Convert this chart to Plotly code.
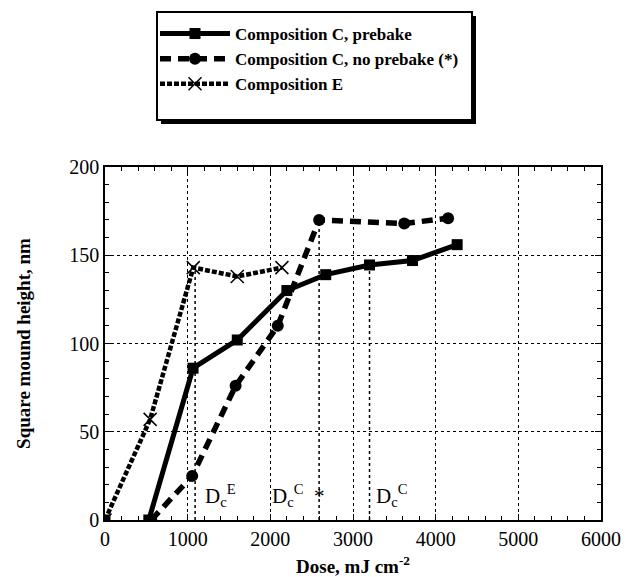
import plotly.graph_objects as go

# Data
prebake_x = [530, 1065, 1600, 2200, 2670, 3200, 3720, 4260]
prebake_y = [0, 86, 102, 130, 139, 144.5, 147, 156]

noprebake_x = [560, 1055, 1580, 2090, 2590, 3620, 4150]
noprebake_y = [0, 25, 76, 110, 170, 168, 171]

compE_x = [0, 546, 1068, 1600, 2140]
compE_y = [0, 57, 143, 138, 143]

dc_x = [1090, 2590, 3200]
dc_top = [143, 170, 144.5]
dc_labels = ["D<sub>c</sub><sup>E</sup>", "D<sub>c</sub><sup>C</sup>  *", "D<sub>c</sub><sup>C</sup>"]
dc_label_x = [1190, 1990, 3260]
dc_label_y = [14, 14, 14]

x_ticks = [0, 1000, 2000, 3000, 4000, 5000, 6000]
y_ticks = [0, 50, 100, 150, 200]

SERIF = "Liberation Serif, Tinos, Times New Roman, Times, serif"

L, R, T, B = 105, 601, 167, 520  # plot area pixels


def px(xp):
    return (xp - L) / (R - L)


def py(yp):
    return (B - yp) / (B - T)


fig = go.Figure()

# Dc vertical dotted lines
vx, vy = [], []
for x, t in zip(dc_x, dc_top):
    vx += [x, x, None]
    vy += [0, t, None]
fig.add_trace(go.Scatter(x=vx, y=vy, mode="lines", showlegend=False, hoverinfo="skip",
                         line=dict(color="black", width=1.5, dash="dot")))

fig.add_trace(go.Scatter(
    x=prebake_x, y=prebake_y, mode="lines+markers", name="Composition C, prebake",
    line=dict(color="black", width=5),
    marker=dict(symbol="square", size=11, color="black")))

fig.add_trace(go.Scatter(
    x=noprebake_x, y=noprebake_y, mode="lines+markers", name="Composition C, no prebake (*)",
    line=dict(color="black", width=5.5, dash="11px,7px"),
    marker=dict(symbol="circle", size=12, color="black")))

fig.add_trace(go.Scatter(
    x=compE_x, y=compE_y, mode="lines+markers", name="Composition E",
    line=dict(color="black", width=4.5, dash="5px,2px"),
    marker=dict(symbol="x-thin-open", size=13, color="black",
                line=dict(color="black", width=1.5))))

# starting point of Composition E drawn as a square
fig.add_trace(go.Scatter(
    x=compE_x[:1], y=compE_y[:1], mode="markers", showlegend=False, hoverinfo="skip",
    marker=dict(symbol="square", size=11, color="black")))

for lx, ly, txt in zip(dc_label_x, dc_label_y, dc_labels):
    fig.add_annotation(x=lx, y=ly, text=txt, showarrow=False, xanchor="left", yanchor="middle",
                       font=dict(family=SERIF, size=21, color="black"))

# legend frame with drop shadow
fig.add_shape(type="rect", xref="paper", yref="paper",
              x0=px(161), x1=px(476), y0=py(124), y1=py(16),
              fillcolor="black", line=dict(width=0), layer="below")
fig.add_shape(type="rect", xref="paper", yref="paper",
              x0=px(157), x1=px(472), y0=py(120), y1=py(12),
              fillcolor="white", line=dict(color="black", width=2), layer="below")

axis_common = dict(
    showline=True, linecolor="black", linewidth=1.5, mirror="ticks",
    ticks="inside", ticklen=6, tickcolor="black",
    showgrid=True, gridcolor="black", gridwidth=1, griddash="dot",
    zeroline=False, automargin=False,
    tickfont=dict(family=SERIF, size=20, color="black"),
)

fig.update_xaxes(range=[0, 6000], tickvals=x_ticks,
                 minor=dict(dtick=200, ticks="inside", ticklen=4, tickcolor="black", showgrid=False),
                 title=dict(text="<b>Dose, mJ cm<sup>-2</sup></b>",
                            font=dict(family=SERIF, size=19, color="black"), standoff=12),
                 **axis_common)
fig.update_yaxes(range=[0, 200], tickvals=y_ticks,
                 minor=dict(dtick=10, ticks="inside", ticklen=4, tickcolor="black", showgrid=False),
                 title=dict(text="<b>Square mound height, nm</b>",
                            font=dict(family=SERIF, size=19, color="black"), standoff=34),
                 **axis_common)

fig.update_layout(
    width=626, height=577,
    margin=dict(l=L, r=626 - R, t=T, b=577 - B),
    paper_bgcolor="white", plot_bgcolor="white",
    showlegend=True,
    legend=dict(x=px(155), y=py(16), xanchor="left", yanchor="top",
                bgcolor="rgba(0,0,0,0)", borderwidth=0,
                font=dict(family=SERIF, size=17, color="black", weight="bold"),
                itemwidth=70, tracegroupgap=0),
)

fig.write_html("out.html")
